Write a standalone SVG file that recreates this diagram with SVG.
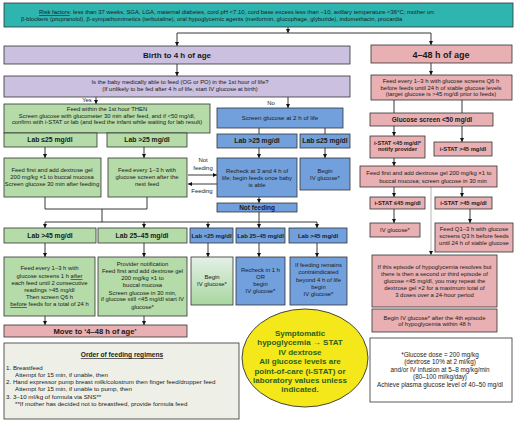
<svg xmlns="http://www.w3.org/2000/svg" width="520" height="422" viewBox="0 0 520 422">
<defs>
<marker id="ah" viewBox="0 0 6 6" refX="6" refY="3" markerWidth="4" markerHeight="4" orient="auto" markerUnits="userSpaceOnUse"><path d="M0,0 L6,3 L0,6 z" fill="#111"/></marker>
<linearGradient id="gg" x1="0" y1="0" x2="0" y2="1"><stop offset="0" stop-color="#e4f0e6"/><stop offset="1" stop-color="#a9d7a0"/></linearGradient>
<style>
rect{stroke:#333;stroke-width:0.8}
.teal{fill:#2fb5b0}.lav{fill:#cbc0df}.pink{fill:#e8b0b2}.green{fill:#b4dba8}.blue{fill:#72a0dd}.ord{fill:#eef0e7}.wht{fill:#fff}
text{font-family:"Liberation Sans",Arial,sans-serif;font-size:5.9px;fill:#1a1a1a;text-anchor:middle}
.s{text-anchor:start}
.b{font-weight:bold}
.h1{font-size:8px;font-weight:bold}
.h2{font-size:9px;font-weight:bold}
.lb{font-size:6.8px;font-weight:bold}
.lbs{font-size:6px;font-weight:bold}
.ys{font-size:8px;font-weight:bold;fill:#2d5f1c}
.u{text-decoration:underline}
#conn path{fill:none;stroke:#222;stroke-width:0.9}
#conn path.a{marker-end:url(#ah)}
#conn path.thin{stroke:#888;stroke-width:0.6}
</style>
</defs>
<rect width="520" height="422" fill="#fff" style="stroke:none"/>

<g id="conn">
<path class="a" d="M288,27 V33"/>
<path d="M177,33 H431"/>
<path class="a" d="M177,33 V46"/>
<path class="a" d="M431,33 V45"/>
<path class="a" d="M177,64 V76"/>
<path class="a" d="M431,63 V75"/>
<path class="a" d="M96,97 V104"/>
<path class="a" d="M288,97 V108"/>
<path class="a" d="M45,147 V158"/>
<path class="a" d="M144,147 V158"/>
<path d="M259,128 V134"/>
<path d="M325,128 V134"/>
<path class="a" d="M259,148 V158"/>
<path class="a" d="M325,148 V158"/>
<path class="a" d="M188,175 H217"/>
<path class="a" d="M217,184 H188"/>
<path class="a" d="M259,197 V203"/>
<path d="M45,197 V209 H147 V197"/>
<path d="M102,209 V222"/>
<path d="M259,212 V222"/>
<path d="M45,222 H317"/>
<path class="a" d="M45,222 V228"/>
<path class="a" d="M144,222 V228"/>
<path class="a" d="M208,222 V228"/>
<path class="a" d="M259,222 V228"/>
<path class="a" d="M317,222 V228"/>
<path class="a" d="M45,243 V257"/>
<path class="a" d="M144,243 V257"/>
<path class="a" d="M208,243 V257"/>
<path class="a" d="M259,243 V257"/>
<path class="a" d="M317,243 V257"/>
<path class="a" d="M45,316 V325"/>
<path class="a" d="M144,316 V325"/>
<path d="M394,100 V113"/>
<path d="M462,100 V113"/>
<path class="a" d="M394,126 V136"/>
<path class="a" d="M462,126 V142"/>
<path class="a" d="M394,158 V166"/>
<path class="a" d="M394,187 V197"/>
<path class="a" d="M462,187 V197"/>
<path class="a thin" d="M431,187 V255"/>
<path class="a" d="M394,209 V223"/>
<path class="a" d="M470,209 V223"/>
</g>

<g id="risk"><rect class="teal" x="4" y="3" width="509" height="24"/>
<text class="s" x="39" y="14.3"><tspan class="u">Risk factors</tspan>: less than 37 weeks, SGA, LGA, maternal diabetes, cord pH &lt;7.10, cord base excess less than −10, axillary temperature &lt;36°C; mother on:</text>
<text class="s" x="21" y="21.3">β-blockers (propranolol), β-sympathomimetics (terbutaline), oral hypoglycemic agents (metformin, glucophage, glyburide), indomethacin, procardia</text></g>

<g id="birth"><rect class="lav" x="4" y="46" width="346" height="18"/><text class="h1" x="177" y="58">Birth to 4 h of age</text></g>
<g id="age448"><rect class="pink" x="371" y="45" width="141" height="18"/><text class="h2" x="441" y="57.5">4–48 h of age</text></g>

<g id="question"><rect class="lav" x="4" y="76" width="346" height="21"/>
<text x="180" y="83.5">Is the baby medically able to feed (OG or PO) in the 1st hour of life?</text>
<text x="180" y="90.5">(If unlikely to be fed after 4 h of life, start IV glucose at birth)</text></g>
<text x="87" y="102">Yes</text>
<text x="271" y="105">No</text>

<g id="pink1"><rect class="pink" x="371" y="75" width="141" height="25"/>
<text x="441" y="83">Feed every 1–3 h with glucose screens Q6 h</text>
<text x="441" y="89.5">before feeds until 24 h of stable glucose levels</text>
<text x="441" y="96">(target glucose is &gt;45 mg/dl prior to feeds)</text></g>

<g id="feed1"><rect class="green" x="4" y="104" width="206" height="29"/>
<text x="107" y="111">Feed within the 1st hour THEN</text>
<text x="107" y="117.7">Screen glucose with glucometer 30 min after feed, and if &lt;50 mg/dl,</text>
<text x="107" y="124.3">confirm with i-STAT or lab (and feed the infant while waiting for lab result)</text></g>
<g id="glab1"><rect class="green" x="4" y="133" width="93" height="14"/><text class="lb" x="50" y="142.3">Lab ≤25 mg/dl</text></g>
<g id="glab2"><rect class="green" x="107" y="133" width="80" height="14"/><text class="lb" x="147" y="142.3">Lab &gt;25 mg/dl</text></g>
<g id="gfeedfirst"><rect class="green" x="4" y="158" width="97" height="39"/>
<text x="52" y="172">Feed first and add dextrose gel</text>
<text x="52" y="178.7">200 mg/kg ×1 to buccal mucosa</text>
<text x="52" y="186">Screen glucose 30 min after feeding</text></g>
<g id="gfeedevery"><rect class="green" x="108" y="158" width="79" height="39"/>
<text x="147" y="172">Feed every 1–3 h with</text>
<text x="147" y="178.7">glucose screen after the</text>
<text x="147" y="186">next feed</text></g>
<text x="203" y="162">Not</text><text x="203" y="169.7">feeding</text>
<text x="202" y="193">Feeding</text>

<g id="screen2"><rect class="blue" x="217" y="108" width="126" height="20"/><text x="280" y="120.2" style="font-size:6.2px">Screen glucose at 2 h of life</text></g>
<g id="blab1"><rect class="blue" x="217" y="134" width="80" height="14"/><text class="lb" x="257" y="143.3">Lab &gt;25 mg/dl</text></g>
<g id="blab2"><rect class="blue" x="300" y="134" width="50" height="14"/><text class="lb" x="325" y="143.3">Lab ≤25 mg/dl</text></g>
<g id="recheck"><rect class="blue" x="217" y="158" width="80" height="39"/>
<text x="257" y="172.7">Recheck at 3 and 4 h of</text>
<text x="257" y="179.7">life; begin feeds once baby</text>
<text x="257" y="187">is able</text></g>
<g id="beginiv1"><rect class="blue" x="300" y="158" width="50" height="32"/>
<text x="325" y="172.7">Begin</text><text x="325" y="179.7">IV glucose*</text></g>
<g id="notfeeding"><rect class="blue" x="217" y="203" width="80" height="9"/><text class="b" x="257" y="210.3" style="font-size:6.5px">Not feeding</text></g>

<g id="glab3"><rect class="green" x="4" y="228" width="92" height="15"/><text class="lb" x="50" y="238.3">Lab &gt;45 mg/dl</text></g>
<g id="glab4"><rect class="green" x="98" y="228" width="89" height="15"/><text class="lb" x="142" y="238.3">Lab 25–45 mg/dl</text></g>
<g id="blab3"><rect class="blue" x="190" y="228" width="43" height="15"/><text class="lbs" x="211.5" y="238">Lab &lt;25 mg/dl</text></g>
<g id="blab4"><rect class="blue" x="236" y="228" width="49" height="15"/><text class="lbs" x="260.5" y="238">Lab 25–45 mg/dl</text></g>
<g id="blab5"><rect class="blue" x="289" y="228" width="58" height="15"/><text class="lbs" x="318" y="238">Lab &gt;45 mg/dl</text></g>

<g id="gfeed3"><rect class="green" x="4" y="257" width="91" height="59"/>
<text x="49.5" y="270.3">Feed every 1–3 h with</text>
<text x="49.5" y="278">glucose screens 1 h <tspan class="u">after</tspan></text>
<text x="49.5" y="284.7">each feed until 2 consecutive</text>
<text x="49.5" y="292">readings &gt;45 mg/dl</text>
<text x="49.5" y="299.3">Then screen Q6 h</text>
<text x="49.5" y="306.3"><tspan class="u">before</tspan> feeds for a total of 24 h</text></g>
<g id="provider"><rect class="green" x="98" y="257" width="89" height="59"/>
<text x="142.5" y="266">Provider notification</text>
<text x="142.5" y="273">Feed first and add dextrose gel</text>
<text x="142.5" y="280.3">200 mg/kg ×1 to</text>
<text x="142.5" y="287">buccal mucosa</text>
<text x="142.5" y="294.7">Screen glucose in 30 min,</text>
<text x="142.5" y="301.3">if glucose still &lt;45 mg/dl start IV</text>
<text x="142.5" y="308.7">glucose*</text></g>
<g id="beginiv2"><rect fill="url(#gg)" x="191" y="257" width="42" height="48"/>
<text x="212" y="278.7">Begin</text><text x="212" y="286">IV glucose*</text></g>
<g id="recheck1h"><rect class="blue" x="236" y="257" width="49" height="48"/>
<text x="260.5" y="272">Recheck in 1 h</text><text x="260.5" y="278.7">OR</text><text x="260.5" y="286">begin</text><text x="260.5" y="293">IV glucose*</text></g>
<g id="iffeeding"><rect class="blue" x="290" y="257" width="57" height="48"/>
<text x="318.5" y="267">If feeding remains</text><text x="318.5" y="274.3">contraindicated</text><text x="318.5" y="282">beyond 4 h of life</text><text x="318.5" y="289.3">begin</text><text x="318.5" y="296.3">IV glucose*</text></g>

<g id="moveto"><rect class="pink" x="4" y="325" width="183" height="12"/><text class="b" x="95" y="333.7" style="font-size:7.6px">Move to ‘4–48 h of age’</text></g>

<g id="order"><rect class="ord" x="4" y="343" width="235" height="76"/>
<text class="b u" x="122" y="357.3" style="font-size:6.6px">Order of feeding regimens</text>
<text class="s" x="6" y="369.7" style="font-size:6.2px">1. Breastfeed</text>
<text class="s" x="15" y="377" style="font-size:6.2px">Attempt for 15 min, if unable, then</text>
<text class="s" x="6" y="384" style="font-size:6.2px">2. Hand expressor pump breast milk/colostrum then finger feed/dropper feed</text>
<text class="s" x="15" y="391.3" style="font-size:6.2px">Attempt for 15 min, if unable to pump, then</text>
<text class="s" x="6" y="398.7" style="font-size:6.2px">3. 3–10 ml/kg of formula via SNS**</text>
<text class="s" x="15" y="406.3" style="font-size:6.2px">**If mother has decided not to breastfeed, provide formula feed</text></g>

<g id="symptomatic"><ellipse cx="305" cy="358" rx="63" ry="49" fill="#f4e71a" stroke="#333" stroke-width="0.9"/>
<text class="ys" x="300" y="335.5">Symptomatic</text>
<text class="ys" x="300" y="345">hypoglycemia → STAT</text>
<text class="ys" x="300" y="354.5">IV dextrose</text>
<text class="ys" x="300" y="364">All glucose levels are</text>
<text class="ys" x="300" y="373.5">point-of-care (i-STAT) or</text>
<text class="ys" x="300" y="382.5">laboratory values unless</text>
<text class="ys" x="300" y="391.5">indicated.</text></g>

<g id="footnote"><rect class="wht" x="370" y="338" width="142" height="64"/>
<text x="440" y="357" style="font-size:6.3px">*Glucose dose = 200 mg/kg</text>
<text x="440" y="364.3" style="font-size:6.3px">(dextrose 10% at 2 ml/kg)</text>
<text x="440" y="372" style="font-size:6.3px">and/or IV infusion at 5–8 mg/kg/min</text>
<text x="440" y="379.3" style="font-size:6.3px">(80–100 ml/kg/day)</text>
<text x="440" y="387" style="font-size:6.3px">Achieve plasma glucose level of 40–50 mg/dl</text></g>

<g id="gscreen"><rect class="pink" x="370" y="113" width="123" height="13"/><text class="b" x="432" y="122" style="font-size:6.5px">Glucose screen &lt;50 mg/dl</text></g>
<g id="istat1"><rect class="pink" x="370" y="136" width="55" height="22"/>
<text class="b" x="397.5" y="144.7" style="font-size:5.6px">i-STAT &lt;45 mg/dl*</text><text class="b" x="397.5" y="151.3" style="font-size:5.6px">notify provider</text></g>
<g id="istat2"><rect class="pink" x="434" y="142" width="58" height="14"/><text class="b" x="463" y="151.2" style="font-size:5.8px">i-STAT &gt;45 mg/dl</text></g>
<g id="pfeedfirst"><rect class="pink" x="360" y="166" width="137" height="21"/>
<text x="429" y="174.7">Feed first and add dextrose gel 200 mg/kg ×1 to</text>
<text x="433" y="183">buccal mucosa; screen glucose in 30 min</text></g>
<g id="istat3"><rect class="pink" x="370" y="197" width="55" height="12"/><text class="b" x="397.5" y="205.2" style="font-size:5.8px">i-STAT ≤45 mg/dl</text></g>
<g id="istat4"><rect class="pink" x="435" y="197" width="57" height="12"/><text class="b" x="463.5" y="205.2" style="font-size:5.8px">i-STAT &gt;45 mg/dl</text></g>
<g id="ivglucose"><rect class="pink" x="370" y="223" width="50" height="14"/><text x="395" y="232">IV glucose*</text></g>
<g id="feedq13"><rect class="pink" x="435" y="223" width="78" height="29"/>
<text x="474" y="231.3">Feed Q1–3 h with glucose</text><text x="474" y="238.3">screens Q3 h before feeds</text><text x="474" y="245.3">until 24 h of stable glucose</text></g>
<g id="episode"><rect class="pink" x="372" y="255" width="125" height="52"/>
<text x="434.5" y="268.7">If this episode of hypoglycemia resolves but</text>
<text x="434.5" y="276">there is then a second or third episode of</text>
<text x="434.5" y="283.2">glucose &lt;45 mg/dl, you may repeat the</text>
<text x="434.5" y="290.4">dextrose gel ×2 for a maximum total of</text>
<text x="434.5" y="297.4">3 doses over a 24-hour period</text></g>
<g id="begin4th"><rect class="pink" x="372" y="309" width="125" height="23"/>
<text x="434.5" y="319.5">Begin IV glucose* after the 4th episode</text>
<text x="434.5" y="326.3">of hypoglycemia within 48 h</text></g>
</svg>
